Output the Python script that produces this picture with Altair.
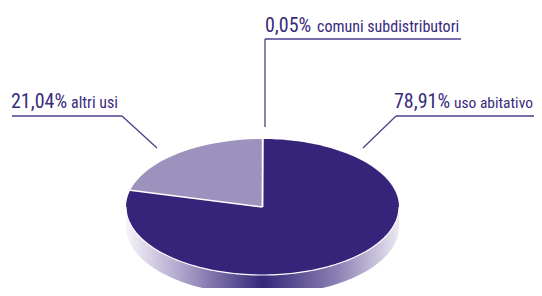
import math
import pandas as pd
import altair as alt

# ---- data ----
categories = ["comuni subdistributori", "uso abitativo", "altri usi"]
values = [0.05, 78.91, 21.04]
slice_colors = ["#6d5fa3", "#35247a", "#9d91bd"]

# ---- layout (page pixels) ----
CX, CY, A, B, DEPTH = 262.5, 207.0, 136.5, 68.0, 20.0
TEXT_COLOR = "#392b7d"
LINE_COLOR = "#4a3f8c"
FONT = "Roboto Condensed, Liberation Sans Narrow, DejaVu Sans Condensed, sans-serif"


def ell(theta_deg, dy=0.0):
    t = math.radians(90 - theta_deg)
    return CX + A * math.cos(t), CY - B * math.sin(t) + dy


# sector polygons from the values
total = sum(values)
rows = []
bounds = []
cum = 0.0
for cat, v in zip(categories, values):
    start = cum / total * 360
    cum += v
    end = cum / total * 360
    bounds.append(end)
    n = max(2, int((end - start) / 1.5) + 2)
    rows.append({"cat": cat, "i": 0, "x": CX, "y": CY})
    for k in range(n + 1):
        th = start + (end - start) * k / n
        x, y = ell(th)
        rows.append({"cat": cat, "i": k + 1, "x": x, "y": y})
    rows.append({"cat": cat, "i": n + 2, "x": CX, "y": CY})
sectors = pd.DataFrame(rows)

# rim (front side of the cylinder)
rim_rows = []
idx = 0
for k in range(121):
    th = 90 + 180 * k / 120
    x, y = ell(th)
    rim_rows.append({"i": idx, "x": x, "y": y}); idx += 1
for k in range(121):
    th = 270 - 180 * k / 120
    x, y = ell(th, DEPTH)
    rim_rows.append({"i": idx, "x": x, "y": y}); idx += 1
rim = pd.DataFrame(rim_rows)

# front highlight edge
edge = pd.DataFrame([{"i": k, "x": ell(90 + 180 * k / 120)[0], "y": ell(90 + 180 * k / 120)[1]} for k in range(121)])

# white separators along slice borders
sep_rows = []
for th in [0.0] + bounds[:-1]:
    x, y = ell(th)
    sep_rows.append({"x": CX, "y": CY, "x2": x, "y2": y})
seps = pd.DataFrame(sep_rows)

# leader lines
leaders = pd.DataFrame([
    {"x": 265, "y": 39, "x2": 461, "y2": 39},
    {"x": 265, "y": 39, "x2": 265, "y2": 127},
    {"x": 12, "y": 116, "x2": 122, "y2": 116},
    {"x": 122, "y": 116, "x2": 157, "y2": 148},
    {"x": 396, "y": 116, "x2": 534, "y2": 116},
    {"x": 396, "y": 116, "x2": 363, "y2": 148},
])

# labels
def pct(v):
    return f"{v:.2f}%".replace(".", ",")

label_pos = {
    "comuni subdistributori": (265, 317, 32, 16),
    "altri usi": (11, 71, 108, 16),
    "uso abitativo": (394, 454, 108, 15.5),
}
lab_rows = []
for cat, v in zip(categories, values):
    xn, xt, yb, fs = label_pos[cat]
    lab_rows.append({"x": xn, "y": yb, "t": pct(v), "fs": 20})
    lab_rows.append({"x": xt, "y": yb, "t": cat, "fs": fs})
labels = pd.DataFrame(lab_rows)

X = alt.X("x:Q", scale=alt.Scale(domain=[8, 534], nice=False, zero=False), axis=None)
Y = alt.Y("y:Q", scale=alt.Scale(domain=[288, 8], nice=False, zero=False), axis=None)

rim_layer = alt.Chart(rim).mark_line(
    filled=True,
    strokeWidth=0,
    fill=alt.LinearGradient(
        gradient="linear",
        x1=0, x2=1, y1=0, y2=0,
        stops=[
            alt.GradientStop(offset=0.0, color="#f7f5fb"),
            alt.GradientStop(offset=0.22, color="#a79dc7"),
            alt.GradientStop(offset=0.5, color="#35277a"),
            alt.GradientStop(offset=0.78, color="#8e83b6"),
            alt.GradientStop(offset=1.0, color="#ebe8f2"),
        ],
    ),
).encode(x=X, y=Y, order="i:Q")

sector_layer = alt.Chart(sectors).mark_line(filled=True, strokeWidth=0).encode(
    x=X, y=Y, order="i:Q",
    color=alt.Color("cat:N", scale=alt.Scale(domain=categories, range=slice_colors), legend=None),
    detail="cat:N",
)

edge_layer = alt.Chart(edge).mark_line(color="white", strokeWidth=1.2).encode(x=X, y=Y, order="i:Q")

sep_layer = alt.Chart(seps).mark_rule(color="white", strokeWidth=1.5).encode(
    x=X, y=Y, x2="x2:Q", y2="y2:Q")

leader_layer = alt.Chart(leaders).mark_rule(color=LINE_COLOR, strokeWidth=1.3).encode(
    x=X, y=Y, x2="x2:Q", y2="y2:Q")

text_layer = alt.Chart(labels).mark_text(
    align="left", baseline="alphabetic", font=FONT, color=TEXT_COLOR
).encode(x=X, y=Y, text="t:N", size=alt.Size("fs:Q", scale=None))

chart = alt.layer(
    rim_layer, sector_layer, edge_layer, sep_layer, leader_layer, text_layer
).properties(
    width=526, height=280, padding=0, autosize=alt.AutoSizeParams(type="none")
).configure_view(strokeWidth=0)

chart.save("out.html", embed_options={"renderer": "svg", "actions": False})
